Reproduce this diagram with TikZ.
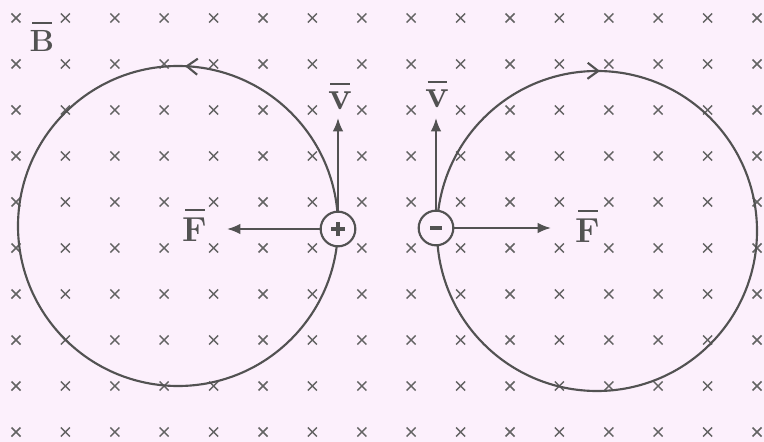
\documentclass[tikz,border=0pt]{standalone}
\usetikzlibrary{arrows.meta,decorations.markings}
\definecolor{bgpink}{RGB}{252,240,252}
\definecolor{ink}{RGB}{82,82,82}
\newcommand{\barred}[1]{\setbox0=\hbox{#1}\vbox{\offinterlineskip\hbox to\wd0{\hss\vrule width 0.8\wd0 height 1.7pt\hss}\kern5pt\box0}}
\begin{document}
\begin{tikzpicture}[
  x=0.75pt,y=-0.75pt,
  cross/.style={ink!90, line width=1.1pt},
  orbit/.style={ink, line width=1.6pt, postaction={decorate}},
  charge/.style={draw=ink, fill=bgpink, circle, line width=1.6pt, minimum size=26pt, inner sep=0pt, text=ink},
  arrow/.style={-{Latex[length=10pt,width=8pt]}, ink, line width=1.6pt},
  lbl/.style={text=ink, font=\fontsize{26}{26}\selectfont\bfseries}
]
\fill[bgpink] (0,0) rectangle (764,442);
\useasboundingbox (0,0) rectangle (764,442);
\foreach \i in {0,...,15}
  \foreach \j in {0,...,9}
    \draw[cross] ({16+49.4*\i-4.5},{18+46*\j-4.5}) -- ++(9,9)
                 ({16+49.4*\i-4.5},{18+46*\j+4.5}) -- ++(9,-9);
\coordinate (cl) at (178,226);
\coordinate (cr) at (597,231);
\draw[orbit, decoration={markings, mark=at position 0.243 with {\arrow{Straight Barb[length=8pt,width=12pt]}}}] (cl) circle (120pt);
\draw[orbit, decoration={markings, mark=at position 0.247 with {\arrowreversed{Straight Barb[length=8pt,width=12pt]}}}] (cr) circle (120pt);
\node[charge] (pos) at (338,229) {\makebox[0pt]{\rule[-0.5pt]{10pt}{3pt}}\makebox[0pt]{\rule[-4pt]{3pt}{10pt}}};
\node[charge] (neg) at (436,228) {\rule{9pt}{3.2pt}};
\coordinate (vp) at (338,118);
\coordinate (vn) at (436,118);
\coordinate (fp) at (227,229);
\coordinate (fn) at (551,228);
\draw[arrow] (pos) -- (vp);
\draw[arrow] (pos) -- (fp);
\draw[arrow] (neg) -- (vn);
\draw[arrow] (neg) -- (fn);
\node[lbl, font=\fontsize{23}{23}\selectfont\bfseries] (labB) at (42,37) {\barred{B}};
\node[lbl] (labFp) at (195,225) {\barred{F}};
\node[lbl] (labFn) at (588,226) {\barred{F}};
\node[lbl, font=\fontsize{30}{30}\selectfont\bfseries] (labvp) at (340,96) {\barred{v}};
\node[lbl, font=\fontsize{30}{30}\selectfont\bfseries] (labvn) at (437,94) {\barred{v}};
\end{tikzpicture}
\end{document}
